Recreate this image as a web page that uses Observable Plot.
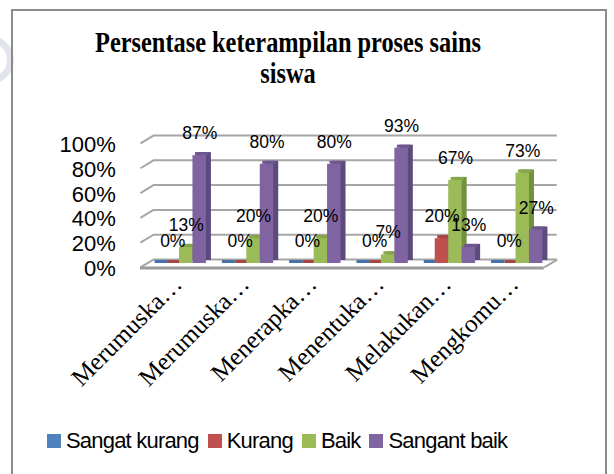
<!DOCTYPE html>
<html><head><meta charset="utf-8">
<script src="https://cdn.jsdelivr.net/npm/d3@7"></script>
<script src="https://cdn.jsdelivr.net/npm/@observablehq/plot@0.6"></script>
<style>
body{margin:0;width:614px;height:474px;overflow:hidden;background:#fff;position:relative;font-family:"Liberation Sans",Arial,sans-serif;}
#logo{position:absolute;left:-34px;top:36px;width:34px;height:34px;border:7px solid #e3e5ee;border-radius:50%;}
#frame{position:absolute;left:11px;top:9px;width:592px;height:480px;border:2px solid #8c8c8c;}
#title{position:absolute;left:0;width:576px;top:27px;text-align:center;font:bold 29px/31px "Liberation Serif",serif;transform:scaleX(0.84);transform-origin:288px 0;color:#000;}
#chart{position:absolute;left:0;top:110px;}
#legend{position:absolute;top:429px;left:47px;display:flex;align-items:center;font-size:22px;line-height:24px;letter-spacing:-0.8px;color:#000;white-space:nowrap;}
#legend .sw{display:inline-block;width:14px;height:14px;margin-right:5px;}
#legend .it{margin-right:9px;}
</style></head>
<body>
<div id="logo"></div>
<div id="frame"></div>
<div id="title">Persentase keterampilan proses sains<br>siswa</div>
<div id="chart"></div>
<div id="legend"></div>
<script>
const categories = ["Merumuska…","Merumuska…","Menerapka…","Menentuka…","Melakukan…","Mengkomu…"];
const seriesNames = ["Sangat kurang","Kurang","Baik","Sangant baik"];
const sangatKurang = [0,0,0,0,0,0];
const kurang = [0,0,0,0,20,0];
const baik = [13,20,20,7,67,73];
const sangantBaik = [87,80,80,93,13,27];
const yTicks = [0,20,40,60,80,100];
const colors = ["#4f81bd","#c0504d","#9bbb59","#8064a2"];
const sideColors = ["#3a6190","#8e3b39","#73903f","#5d4a7c"];
const topColors = ["#4572a8","#a84542","#86a64a","#6e5690"];

const seriesValues = [sangatKurang, kurang, baik, sangantBaik];
const rows = [];
seriesValues.forEach((vals, si) => vals.forEach((v, i) => rows.push({i, si, s: seriesNames[si], v})));
const bw = 0.2;
const x1 = d => d.i - 0.4 + d.si * bw;
const x2 = d => d.i - 0.4 + (d.si + 1) * bw;

const barMarks = [];
seriesNames.forEach((name, si) => {
  const data = rows.filter(d => d.si === si);
  barMarks.push(Plot.rectY(data, {x1, x2, y1: 0, y2: "v", dx: 5, dy: -3, fill: sideColors[si]}));
  barMarks.push(Plot.rectY(data, {x1, x2, y1: "v", y2: "v", insetTop: -3, dx: 2.5, fill: topColors[si]}));
  barMarks.push(Plot.rectY(data, {x1, x2, y1: 0, y2: "v", fill: colors[si]}));
});

const gridStroke = "#a6a6a6";
const chart = Plot.plot({
  width: 614, height: 290,
  marginLeft: 145.35, marginRight: 64.85, marginTop: 29, marginBottom: 137,
  x: {domain: [-0.5, 5.5], axis: null},
  y: {domain: [0, 100], axis: null},
  style: {fontFamily: "Liberation Sans, Arial, sans-serif", color: "#000", background: "transparent", overflow: "visible"},
  marks: [
    Plot.ruleY(yTicks, {x1: -0.58, x2: 5.42, dx: 13, dy: -4, stroke: gridStroke, strokeWidth: 2}),
    Plot.link(yTicks, {x1: -0.58, x2: -0.387, y1: d => d - 3.2, y2: d => d + 3.2, stroke: gridStroke, strokeWidth: 2}),
    Plot.link([0], {x1: 5.42, x2: 5.613, y1: -3.2, y2: 3.2, stroke: gridStroke, strokeWidth: 2}),
    Plot.ruleY([0], {x1: -0.58, x2: 5.42, dy: 4.5, stroke: "#9a9a9a", strokeWidth: 3}),
    ...barMarks,
    Plot.text(rows.filter(d => d.si >= 1), {x: d => x1(d) + bw / 2, y: "v", text: d => d.v + "%", dy: -22, fontSize: 17.5}),
    Plot.text(yTicks, {y: d => d, text: d => d + "%", frameAnchor: "left", textAnchor: "end", dx: -30, dy: 5.5, fontSize: 22}),
    Plot.text(categories, {x: (d, i) => i, text: d => d, frameAnchor: "bottom", rotate: -45, textAnchor: "end", dx: 4, dy: 22, fontSize: 25, fontFamily: "Liberation Serif, serif"})
  ]
});
document.getElementById("chart").appendChild(chart);

const legend = document.getElementById("legend");
seriesNames.forEach((name, si) => {
  const sw = document.createElement("span");
  sw.className = "sw"; sw.style.background = colors[si];
  const t = document.createElement("span");
  t.className = "it"; t.textContent = name;
  legend.appendChild(sw); legend.appendChild(t);
});
</script>
</body></html>
